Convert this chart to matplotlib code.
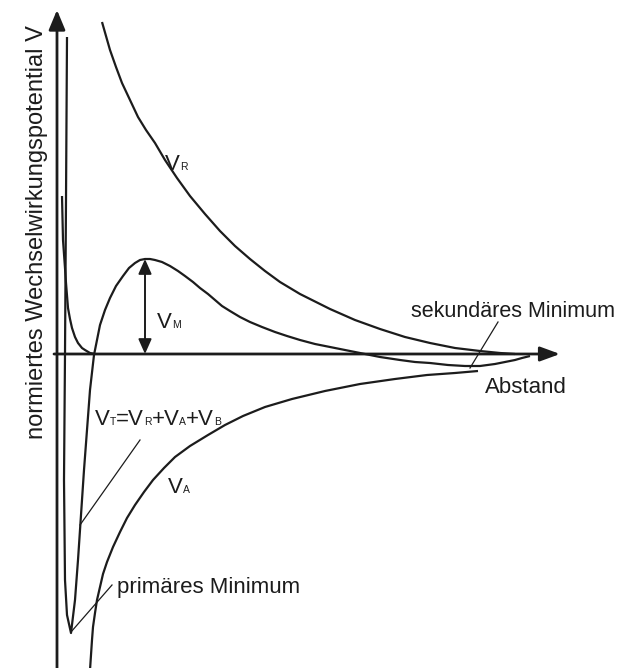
import matplotlib
matplotlib.use('Agg')
import matplotlib.pyplot as plt

plt.rcParams['font.family'] = ['Liberation Sans', 'DejaVu Sans']

# Abstand (willkürliche Einheiten) und normiertes Potential für jede Kurve
vr_d = [0.45, 0.49, 0.53, 0.59, 0.65, 0.73, 0.81, 0.89, 0.98, 1.08, 1.20, 1.33, 1.48,
        1.63, 1.78, 1.93, 2.08, 2.23, 2.43, 2.73, 2.98, 3.23, 3.48, 3.73, 3.98, 4.23,
        4.43, 4.58]
vr_v = [3.32, 3.18, 3.04, 2.87, 2.71, 2.54, 2.37, 2.24, 2.11, 1.94, 1.76, 1.58, 1.40,
        1.23, 1.08, 0.95, 0.83, 0.72, 0.60, 0.45, 0.34, 0.25, 0.17, 0.11, 0.06, 0.03,
        0.01, 0.00]

va_d = [0.33, 0.34, 0.35, 0.36, 0.38, 0.40, 0.43, 0.46, 0.50, 0.56, 0.63, 0.70, 0.78,
        0.87, 0.96, 1.07, 1.18, 1.33, 1.51, 1.68, 1.86, 2.08, 2.35, 2.68, 3.03, 3.38,
        3.70, 3.98, 4.21]
va_v = [-3.16, -3.01, -2.86, -2.73, -2.59, -2.46, -2.33, -2.20, -2.08, -1.93, -1.78,
        -1.64, -1.51, -1.38, -1.26, -1.14, -1.03, -0.92, -0.81, -0.71, -0.62, -0.53,
        -0.45, -0.37, -0.30, -0.25, -0.21, -0.19, -0.17]

vb_d = [0.05, 0.06, 0.08, 0.09, 0.11, 0.13, 0.15, 0.18, 0.21, 0.25, 0.28, 0.33, 0.38]
vb_v = [1.58, 1.14, 0.86, 0.71, 0.46, 0.35, 0.26, 0.17, 0.11, 0.06, 0.04, 0.01, 0.00]

vt_d = [0.10, 0.09, 0.08, 0.07, 0.08, 0.10, 0.14, 0.18, 0.21, 0.24, 0.27, 0.30, 0.33,
        0.37, 0.40, 0.43, 0.48, 0.53, 0.59, 0.66, 0.72, 0.78, 0.83, 0.88, 0.93, 0.98,
        1.05, 1.13, 1.21, 1.28, 1.36, 1.43, 1.51, 1.58, 1.65, 1.73, 1.83, 1.93, 2.05,
        2.18, 2.30, 2.43, 2.58, 2.73, 2.88, 3.03, 3.23, 3.43, 3.58, 3.73, 3.91, 4.08,
        4.23, 4.38, 4.48, 4.58, 4.65, 4.73]
vt_v = [3.17, 1.54, 0.00, -1.26, -2.26, -2.61, -2.79, -2.46, -2.06, -1.61, -1.16, -0.76,
        -0.36, -0.01, 0.14, 0.29, 0.44, 0.56, 0.68, 0.78, 0.86, 0.91, 0.94, 0.95, 0.95,
        0.94, 0.92, 0.88, 0.83, 0.78, 0.72, 0.66, 0.60, 0.54, 0.48, 0.43, 0.37, 0.32,
        0.27, 0.22, 0.18, 0.14, 0.10, 0.07, 0.04, 0.01, -0.03, -0.06, -0.08, -0.09,
        -0.11, -0.12, -0.12, -0.10, -0.08, -0.06, -0.04, -0.02]

ink = '#1c1c1c'
big = 16
small = 7.5

fig = plt.figure(figsize=(6.23, 6.68), dpi=100)
ax = fig.add_axes([0, 0, 1, 1])
ax.set_xlim(-0.57, 5.66)
ax.set_ylim(-3.14, 3.54)
ax.axis('off')

# Achsen mit Pfeilspitzen
ax.annotate('', xy=(0, 3.44), xytext=(0, -3.2),
            arrowprops=dict(arrowstyle='-|>,head_length=0.6,head_width=0.25',
                            mutation_scale=20, lw=2, color=ink, shrinkA=0, shrinkB=0))
ax.annotate('', xy=(5.03, 0), xytext=(-0.03, 0),
            arrowprops=dict(arrowstyle='-|>,head_length=0.6,head_width=0.22',
                            mutation_scale=20, lw=2, color=ink, shrinkA=0, shrinkB=0))

for d, v in [(vr_d, vr_v), (va_d, va_v), (vb_d, vb_v), (vt_d, vt_v)]:
    ax.plot(d, v, color=ink, lw=1.6, solid_joinstyle='round', solid_capstyle='butt')

# Energiebarriere V_M: Maximum hinter dem primären Minimum
i_min = vt_v.index(min(vt_v))
barrier = vt_v[i_min:]
i_max = i_min + barrier.index(max(barrier))
ax.annotate('', xy=(vt_d[i_max], vt_v[i_max]), xytext=(vt_d[i_max], 0),
            arrowprops=dict(arrowstyle='<|-|>,head_length=0.45,head_width=0.2',
                            mutation_scale=20, lw=1.4, color=ink, shrinkA=0, shrinkB=0))

# Hinweislinien
ax.plot([0.83, 0.23], [-0.86, -1.71], color=ink, lw=0.9)
ax.plot([0.55, 0.14], [-2.31, -2.78], color=ink, lw=0.9)
ax.plot([4.41, 4.13], [0.32, -0.14], color=ink, lw=0.9)

renderer = fig.canvas.get_renderer()


def label(x, y, parts):
    # Text mit tiefgestellten Indizes auf gemeinsamer Grundlinie
    off = 0.0
    for s, size in parts:
        t = ax.annotate(s, (x, y), xytext=(off, 0), textcoords='offset points',
                        fontsize=size, color=ink, ha='left', va='baseline')
        off += t.get_window_extent(renderer).width * 72 / fig.dpi


label(1.08, 1.84, [('V', big), ('R', small)])
label(1.00, 0.26, [('V', big), ('M', small)])
label(1.11, -1.39, [('V', big), ('A', small)])
label(0.38, -0.71, [('V', big), ('T', small), ('=V', big), ('R', small),
                    ('+V', big), ('A', small), ('+V', big), ('B', small)])

ax.text(0.60, -2.39, 'primäres Minimum', fontsize=big, color=ink, va='baseline')
ax.text(3.54, 0.37, 'sekundäres Minimum', fontsize=15.5, color=ink, va='baseline')
ax.text(4.28, -0.39, 'Abstand', fontsize=big, color=ink, va='baseline')
ax.text(-0.20, 1.22, 'normiertes Wechselwirkungspotential V', fontsize=17, color=ink,
        rotation=90, ha='center', va='center')

fig.savefig('out.png', dpi=100)
